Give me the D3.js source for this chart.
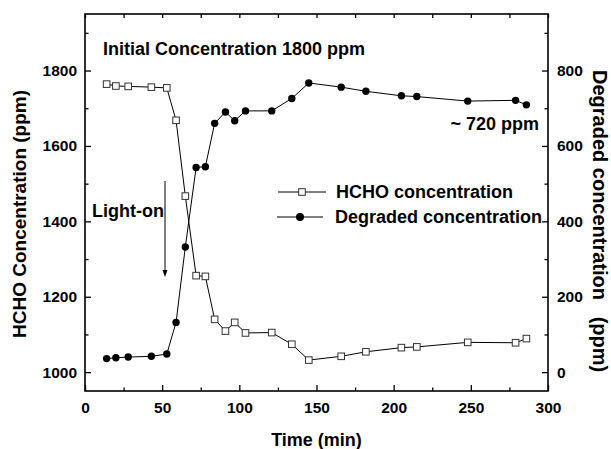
<!DOCTYPE html>
<html>
<head>
<meta charset="utf-8">
<script src="https://cdn.jsdelivr.net/npm/d3@7"></script>
<style>
  body { margin: 0; background: #fff; }
  svg text { font-family: "Liberation Sans", Arial, sans-serif; font-weight: bold; fill: #000; }
</style>
</head>
<body>
<svg id="viz_area" width="611" height="449"></svg>
<script>
// time in minutes, same sampling for both series
var times = [14, 20, 28, 43, 53, 59, 65, 72, 78, 84, 91, 97, 104, 121, 134, 145, 166, 182, 205, 215, 248, 279, 286]
// HCHO concentration (ppm), left axis
var hcho = [1764, 1759, 1758, 1756, 1754, 1668, 1467, 1256, 1254, 1140, 1109, 1132, 1104, 1105, 1074, 1032, 1042, 1054, 1065, 1067, 1079, 1078, 1089]
// degraded concentration (ppm), right axis
var degraded = [36, 38, 40, 42, 48, 132, 332, 543, 545, 660, 690, 667, 693, 693, 726, 767, 756, 745, 733, 731, 719, 721, 709]

var xTicks = [0, 50, 100, 150, 200, 250, 300]
var xMinor = [25, 75, 125, 175, 225, 275]
var leftTicks = [1000, 1200, 1400, 1600, 1800]
var leftMinor = [1100, 1300, 1500, 1700, 1900]
var rightTicks = [0, 200, 400, 600, 800]
var rightMinor = [100, 300, 500, 700, 900]

var margin = {left: 85, right: 63, top: 14, bottom: 58}
var W = 611, H = 449
var svg = d3.select("#viz_area")

var x = d3.scaleLinear().domain([0, 300]).range([margin.left, W - margin.right])
var yL = d3.scaleLinear().domain([950, 1950]).range([H - margin.bottom, margin.top])
var yR = d3.scaleLinear().domain([-50, 950]).range([H - margin.bottom, margin.top])

var x0 = margin.left, x1 = W - margin.right, y0 = H - margin.bottom, y1 = margin.top

function strip(g) {
  g.select(".domain").remove()
  g.selectAll("line").attr("stroke", "#000").attr("stroke-width", 1.3)
}

// bottom axis (ticks point inward)
svg.append("g").attr("transform", "translate(0," + y0 + ")")
  .call(d3.axisBottom(x).tickValues(xTicks).tickSize(-6).tickPadding(11).tickFormat(d3.format("d")))
  .call(strip)
  .selectAll("text").style("font-size", "15.5px").style("font-family", null)
svg.append("g").attr("transform", "translate(0," + y0 + ")")
  .call(d3.axisBottom(x).tickValues(xMinor).tickSize(-3.5).tickFormat(""))
  .call(strip)

// top mirror ticks
svg.append("g").attr("transform", "translate(0," + y1 + ")")
  .call(d3.axisTop(x).tickValues(xTicks.concat(xMinor)).tickSize(-4).tickFormat(""))
  .call(strip)

// left axis
svg.append("g").attr("transform", "translate(" + x0 + ",0)")
  .call(d3.axisLeft(yL).tickValues(leftTicks).tickSize(-6).tickPadding(8).tickFormat(d3.format("d")))
  .call(strip)
  .selectAll("text").style("font-size", "15.5px").style("font-family", null)
svg.append("g").attr("transform", "translate(" + x0 + ",0)")
  .call(d3.axisLeft(yL).tickValues(leftMinor).tickSize(-3.5).tickFormat(""))
  .call(strip)

// right axis
svg.append("g").attr("transform", "translate(" + x1 + ",0)")
  .call(d3.axisRight(yR).tickValues(rightTicks).tickSize(-6).tickPadding(9).tickFormat(d3.format("d")))
  .call(strip)
  .selectAll("text").style("font-size", "15.5px").style("font-family", null)
svg.append("g").attr("transform", "translate(" + x1 + ",0)")
  .call(d3.axisRight(yR).tickValues(rightMinor).tickSize(-3.5).tickFormat(""))
  .call(strip)

// frame
svg.append("rect").attr("x", x0).attr("y", y1).attr("width", x1 - x0).attr("height", y0 - y1)
  .attr("fill", "none").attr("stroke", "#000").attr("stroke-width", 1.6)

// series lines
var lineH = d3.line().x(function (d, i) { return x(times[i]) }).y(function (d) { return yL(d) })
var lineD = d3.line().x(function (d, i) { return x(times[i]) }).y(function (d) { return yR(d) })

svg.append("path").datum(hcho).attr("d", lineH).attr("fill", "none").attr("stroke", "#000").attr("stroke-width", 1)
svg.append("path").datum(degraded).attr("d", lineD).attr("fill", "none").attr("stroke", "#000").attr("stroke-width", 1)

svg.append("g").selectAll("circle").data(degraded).join("circle")
  .attr("cx", function (d, i) { return x(times[i]) })
  .attr("cy", function (d) { return yR(d) })
  .attr("r", 3.7).attr("fill", "#000")

svg.append("g").selectAll("rect").data(hcho).join("rect")
  .attr("x", function (d, i) { return x(times[i]) - 3.3 })
  .attr("y", function (d) { return yL(d) - 3.3 })
  .attr("width", 6.6).attr("height", 6.6)
  .attr("fill", "#fff").attr("stroke", "#333").attr("stroke-width", 1)

// legend
svg.append("line").attr("x1", 278).attr("x2", 326).attr("y1", 192).attr("y2", 192).attr("stroke", "#000")
svg.append("rect").attr("x", 302 - 3.3).attr("y", 192 - 3.3).attr("width", 6.6).attr("height", 6.6)
  .attr("fill", "#fff").attr("stroke", "#333")
svg.append("text").attr("x", 336).attr("y", 198).style("font-size", "18px").text("HCHO concentration")

svg.append("line").attr("x1", 277).attr("x2", 323).attr("y1", 217).attr("y2", 217).attr("stroke", "#000")
svg.append("circle").attr("cx", 300).attr("cy", 217).attr("r", 4).attr("fill", "#000")
svg.append("text").attr("x", 335).attr("y", 223).style("font-size", "18px").text("Degraded concentration")

// annotations
svg.append("text").attr("x", 103).attr("y", 55).style("font-size", "18px").text("Initial Concentration 1800 ppm")
svg.append("text").attr("x", 539).attr("y", 130).attr("text-anchor", "end").style("font-size", "18px").text("~ 720 ppm")
svg.append("text").attr("x", 92).attr("y", 217).style("font-size", "18px").text("Light-on")

// light-on arrow
svg.append("line").attr("x1", 165).attr("x2", 165).attr("y1", 181).attr("y2", 272).attr("stroke", "#000").attr("stroke-width", 1)
svg.append("path").attr("d", "M162.5,270 L167.5,270 L165,277 Z").attr("fill", "#000")

// axis titles
svg.append("text").attr("x", (x0 + x1) / 2).attr("y", 446).attr("text-anchor", "middle")
  .style("font-size", "18px").text("Time (min)")
svg.append("text").attr("transform", "translate(26," + 214 + ") rotate(-90)").attr("text-anchor", "middle")
  .style("font-size", "19px").text("HCHO Concentration (ppm)")
svg.append("text").attr("transform", "translate(593," + 70 + ") rotate(90)").attr("text-anchor", "start")
  .attr("xml:space", "preserve").style("white-space", "pre")
  .style("font-size", "20px").text("Degraded concentration   (ppm)")
</script>
</body>
</html>
